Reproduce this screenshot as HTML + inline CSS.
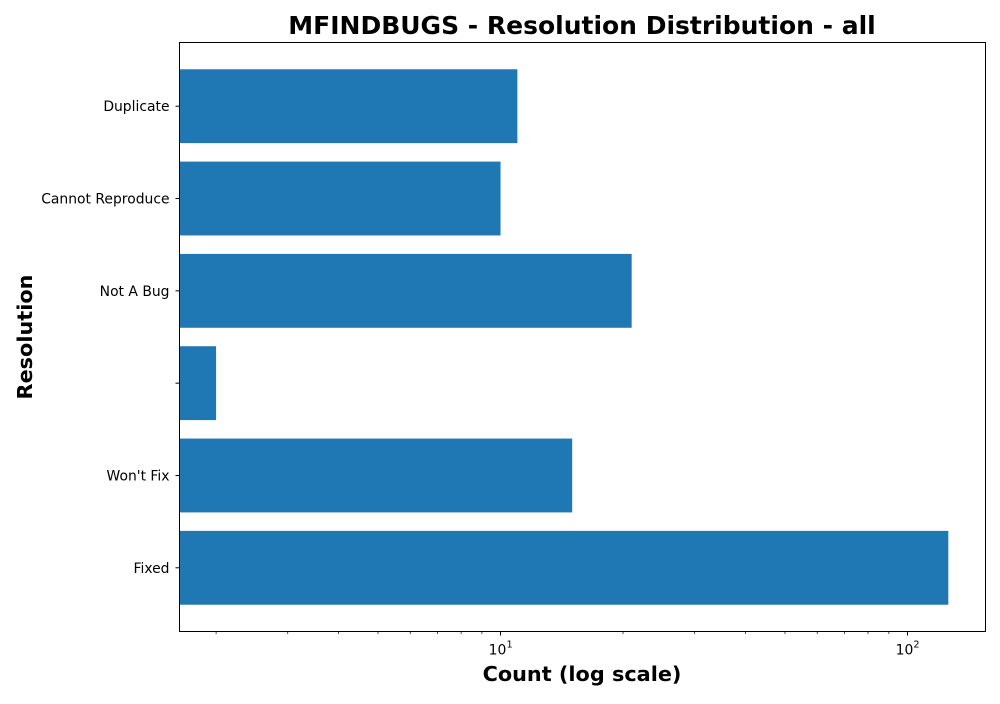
<!DOCTYPE html>
<html><head><meta charset="utf-8"><style>
body{margin:0;background:#fff;font-family:"DejaVu Sans","Liberation Sans",sans-serif;}
</style></head><body>
<svg id="chart" width="1000" height="700" xmlns="http://www.w3.org/2000/svg" font-family="'DejaVu Sans','Liberation Sans',sans-serif">
<text x="582" y="34" text-anchor="middle" font-size="25" font-weight="bold">MFINDBUGS - Resolution Distribution - all</text>
<text x="582" y="681" text-anchor="middle" font-size="20.8" font-weight="bold">Count (log scale)</text>
<text transform="translate(32,337) rotate(-90)" text-anchor="middle" font-size="20.8" font-weight="bold">Resolution</text>
<g id="marks"></g>
<rect x="179.5" y="42.5" width="806" height="589" fill="none" stroke="#000" stroke-width="1"/>
</svg>
<script>
const categories = ["Fixed", "Won't Fix", "", "Not A Bug", "Cannot Reproduce", "Duplicate"];
const counts = [126, 15, 2, 21, 10, 11];
const majorTicks = [10, 100];
const majorTickLabels = ["10", "10"];
const minorTicks = [2,3,4,5,6,7,8,9,20,30,40,50,60,70,80,90];

const L=179.5, R=985.5, T=42.5, B=631.5;
const xMin=Math.log10(1.626), xMax=Math.log10(155.5);
const x = v => L + (Math.log10(v)-xMin)/(xMax-xMin)*(R-L);
const yMin=-0.69, yMax=5.69;
const y = i => B - (i-yMin)/(yMax-yMin)*(B-T);
const bandH = (B-T)/(yMax-yMin);
const NS="http://www.w3.org/2000/svg";
const g=document.getElementById('marks');
function mk(tag, attrs){const e=document.createElementNS(NS,tag);for(const k in attrs)e.setAttribute(k,attrs[k]);g.appendChild(e);return e;}

counts.forEach((c,i)=>{
  const r=mk('rect',{x:L,y:y(i)-0.4*bandH,width:x(c)-L,height:0.8*bandH,fill:'#1f77b4'});
  
  
  const t=mk('line',{x1:L-4,x2:L,y1:y(i),y2:y(i),stroke:'#000'});
  
  
  const lb=mk('text',{x:L-10,y:y(i)+5,'text-anchor':'end','font-size':13.9});
  lb.textContent=categories[i];
  
  
});
majorTicks.forEach((v,i)=>{
  const t=mk('line',{x1:x(v),x2:x(v),y1:B,y2:B+4,stroke:'#000'});
  
  
  const lb=mk('text',{x:x(v)-3,y:B+23,'text-anchor':'middle','font-size':13.9});
  lb.textContent=majorTickLabels[i];
  
  
  const sup=mk('text',{x:x(v)+9,y:B+16,'text-anchor':'middle','font-size':9.7});
  sup.textContent=String(Math.round(Math.log10(v)));
  
  
});
minorTicks.forEach(v=>{
  const t=mk('line',{x1:x(v),x2:x(v),y1:B,y2:B+2.5,stroke:'#000','stroke-width':0.7});
  
  
});
</script>
</body></html>
